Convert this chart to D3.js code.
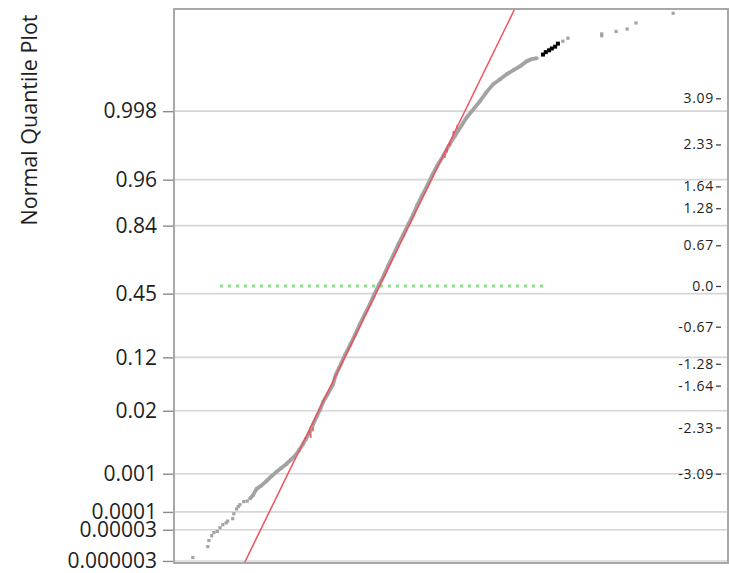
<!DOCTYPE html>
<html>
<head>
<meta charset="utf-8">
<script src="https://cdn.jsdelivr.net/npm/d3@7"></script>
<style>
  body { margin: 0; background: #fff; }
  svg { display: block; }
  text { font-family: "Segoe UI", "Open Sans", "Noto Sans", sans-serif; fill: #1e1e1e; }
</style>
</head>
<body>
<div id="chart"></div>
<script>
// probability ticks on the left, normal quantile ticks on the right
const probTicks = [0.000003, 0.00003, 0.0001, 0.001, 0.02, 0.12, 0.45, 0.84, 0.96, 0.998];
const probLabels = ["0.000003", "0.00003", "0.0001", "0.001", "0.02", "0.12", "0.45", "0.84", "0.96", "0.998"];
const zTicks = [-3.09, -2.33, -1.64, -1.28, -0.67, 0, 0.67, 1.28, 1.64, 2.33, 3.09];
const zLabels = ["-3.09", "-2.33", "-1.64", "-1.28", "-0.67", "0.0", "0.67", "1.28", "1.64", "2.33", "3.09"];

// sorted observations (value) and their normal quantile
const values = [3.4, 6.1, 6.3, 6.8, 7.2, 7.8, 8.3, 8.8, 9.4, 9.7, 10.6, 10.8, 11.3, 11.6, 11.9, 12.6, 13.2,
  13.7, 14.3, 14.9, 15.7, 16.7, 17.5, 18.5, 19.3, 20.3, 21.1, 21.8, 22.6, 23.3, 23.8, 24.5, 25.1, 25.8,
  26.4, 26.9, 27.8, 28.7, 29.2, 30.1, 30.9, 31.8, 32.7, 33.5, 34.4, 35.3, 36.1, 37.0, 37.9, 38.7, 39.6,
  40.4, 41.3, 42.2, 43.1, 43.9, 44.8, 45.7, 46.6, 47.5, 48.6, 49.6, 50.7, 52.8, 55.2, 56.3, 57.6, 58.8,
  60.1, 61.2, 62.5, 63.7, 64.4, 65.5, 70.2, 71.1, 77.2, 77.2, 79.8, 81.8, 83.4, 90.1];
const quantiles = [-4.47, -4.29, -4.19, -4.11, -4.06, -4.04, -3.98, -3.93, -3.90, -3.87, -3.83, -3.75, -3.67,
  -3.63, -3.60, -3.55, -3.54, -3.50, -3.44, -3.34, -3.29, -3.21, -3.14, -3.06, -3.00, -2.93, -2.86, -2.80,
  -2.70, -2.60, -2.52, -2.41, -2.28, -2.14, -2.03, -1.91, -1.77, -1.62, -1.46, -1.29, -1.13, -0.97, -0.80,
  -0.64, -0.47, -0.31, -0.15, 0.02, 0.18, 0.34, 0.51, 0.67, 0.83, 1.00, 1.16, 1.33, 1.49, 1.65, 1.82, 1.98,
  2.14, 2.31, 2.47, 2.77, 3.04, 3.18, 3.32, 3.40, 3.49, 3.55, 3.62, 3.70, 3.73, 3.75, 4.03, 4.08, 4.12,
  4.15, 4.19, 4.23, 4.33, 4.49];

// highlighted rows
const blackValues = [66.6, 67.1, 67.7, 68.2, 68.8, 69.3];
const blackQuantiles = [3.81, 3.85, 3.88, 3.91, 3.94, 3.99];
const redValues = [48.9, 49.3, 49.8, 50.4, 51.1, 24.5, 24.7, 25.1];
const redQuantiles = [2.14, 2.23, 2.34, 2.52, 2.62, -2.41, -2.47, -2.36];

// fitted normal line and reference line
const fitMean = 37.1;
const fitSd = 5.35;
const refStart = 8.3, refEnd = 66.6, refLevel = 0;

// inverse normal cdf (Acklam)
function qnorm(p) {
  const a = [-3.969683028665376e+01, 2.209460984245205e+02, -2.759285104469687e+02, 1.383577518672690e+02, -3.066479806614716e+01, 2.506628277459239e+00];
  const b = [-5.447609879822406e+01, 1.615858368580409e+02, -1.556989798598866e+02, 6.680131188771972e+01, -1.328068155288572e+01];
  const c = [-7.784894002430293e-03, -3.223964580411365e-01, -2.400758277161838e+00, -2.549671324894304e+00, 4.374664141464968e+00, 2.938163982698783e+00];
  const d = [7.784695709041462e-03, 3.224671290700398e-01, 2.445134137142996e+00, 3.754408661907416e+00];
  const pl = 0.02425;
  let q, r;
  if (p < pl) {
    q = Math.sqrt(-2 * Math.log(p));
    return (((((c[0]*q+c[1])*q+c[2])*q+c[3])*q+c[4])*q+c[5]) / ((((d[0]*q+d[1])*q+d[2])*q+d[3])*q+1);
  } else if (p <= 1 - pl) {
    q = p - 0.5; r = q * q;
    return (((((a[0]*r+a[1])*r+a[2])*r+a[3])*r+a[4])*r+a[5])*q / (((((b[0]*r+b[1])*r+b[2])*r+b[3])*r+b[4])*r+1);
  } else {
    q = Math.sqrt(-2 * Math.log(1 - p));
    return -(((((c[0]*q+c[1])*q+c[2])*q+c[3])*q+c[4])*q+c[5]) / ((((d[0]*q+d[1])*q+d[2])*q+d[3])*q+1);
  }
}

const width = 729, height = 573;
const plot = { left: 174, right: 728, top: 9, bottom: 563 };

const svg = d3.select("#chart").append("svg")
  .attr("width", width)
  .attr("height", height);

const x = d3.scaleLinear().domain([0, 100]).range([plot.left, plot.right]);
const y = d3.scaleLinear().domain([-4.56, 4.56]).range([plot.bottom, plot.top]);

svg.append("defs").append("clipPath").attr("id", "clip")
  .append("rect")
  .attr("x", plot.left).attr("y", plot.top)
  .attr("width", plot.right - plot.left).attr("height", plot.bottom - plot.top);

// grid lines at the probability ticks
svg.append("g")
  .selectAll("line")
  .data(probTicks)
  .enter().append("line")
  .attr("x1", plot.left).attr("x2", plot.right)
  .attr("y1", d => y(qnorm(d))).attr("y2", d => y(qnorm(d)))
  .attr("stroke", "#d6d6d6")
  .attr("stroke-width", 1.6);

// left axis
const leftAxis = svg.append("g")
  .attr("transform", "translate(" + plot.left + ",0)")
  .call(d3.axisLeft(y)
    .tickValues(probTicks.map(qnorm))
    .tickFormat((d, i) => probLabels[i])
    .tickSize(11)
    .tickPadding(6));
leftAxis.select(".domain").remove();
leftAxis.selectAll("line").attr("stroke", "#8a8a8a").attr("stroke-width", 1.4);
leftAxis.selectAll("text").attr("font-size", "21px").attr("font-family", null);

// right axis (quantiles) drawn inside the frame
const rightAxis = svg.append("g")
  .attr("transform", "translate(721,0)")
  .call(d3.axisLeft(y)
    .tickValues(zTicks)
    .tickFormat((d, i) => zLabels[i])
    .tickSize(5)
    .tickPadding(2));
rightAxis.select(".domain").remove();
rightAxis.selectAll("line").attr("stroke", "#333").attr("stroke-width", 1.2);
rightAxis.selectAll("text").attr("font-size", "14px").attr("letter-spacing", "0.7px").attr("font-family", null);

const g = svg.append("g").attr("clip-path", "url(#clip)");

// reference line at the median level
g.append("line")
  .attr("x1", x(refStart)).attr("x2", x(refEnd))
  .attr("y1", y(refLevel)).attr("y2", y(refLevel))
  .attr("stroke", "#8fdc8f")
  .attr("stroke-width", 3)
  .attr("stroke-dasharray", "3,5");

// dense band of the points
const pts = values.map((v, i) => ({ v: v, q: quantiles[i] }));
const band = pts.filter(d => d.q >= -3.5 && d.q <= 3.75);
g.append("path")
  .datum(band)
  .attr("fill", "none")
  .attr("stroke", "#a3a3a3")
  .attr("stroke-width", 3.8)
  .attr("d", d3.line().x(d => x(d.v)).y(d => y(d.q)));

g.selectAll(".pt")
  .data(pts)
  .enter().append("rect")
  .attr("class", "pt")
  .attr("x", d => x(d.v) - 1.6)
  .attr("y", d => y(d.q) - 1.6)
  .attr("width", 3.2).attr("height", 3.2)
  .attr("fill", "#a3a3a3");

g.selectAll(".blk")
  .data(blackValues.map((v, i) => ({ v: v, q: blackQuantiles[i] })))
  .enter().append("rect")
  .attr("class", "blk")
  .attr("x", d => x(d.v) - 2)
  .attr("y", d => y(d.q) - 2)
  .attr("width", 4).attr("height", 4)
  .attr("fill", "#000");

// fitted normal line
g.append("line")
  .attr("x1", x(fitMean + fitSd * y.domain()[0])).attr("y1", y(y.domain()[0]))
  .attr("x2", x(fitMean + fitSd * y.domain()[1])).attr("y2", y(y.domain()[1]))
  .attr("stroke", "#f0505e")
  .attr("stroke-width", 1.5);

g.selectAll(".red")
  .data(redValues.map((v, i) => ({ v: v, q: redQuantiles[i] })))
  .enter().append("rect")
  .attr("class", "red")
  .attr("x", d => x(d.v) - 0.7)
  .attr("y", d => y(d.q) - 2)
  .attr("width", 1.4).attr("height", 4)
  .attr("fill", "#f0505e");

// frame
svg.append("rect")
  .attr("x", plot.left).attr("y", plot.top)
  .attr("width", plot.right - plot.left).attr("height", plot.bottom - plot.top)
  .attr("fill", "none")
  .attr("stroke", "#a8a8a8")
  .attr("stroke-width", 2);

// axis title
svg.append("text")
  .attr("transform", "translate(37,120) rotate(-90)")
  .attr("text-anchor", "middle")
  .attr("font-size", "21.5px")
  .text("Normal Quantile Plot");
</script>
</body>
</html>
